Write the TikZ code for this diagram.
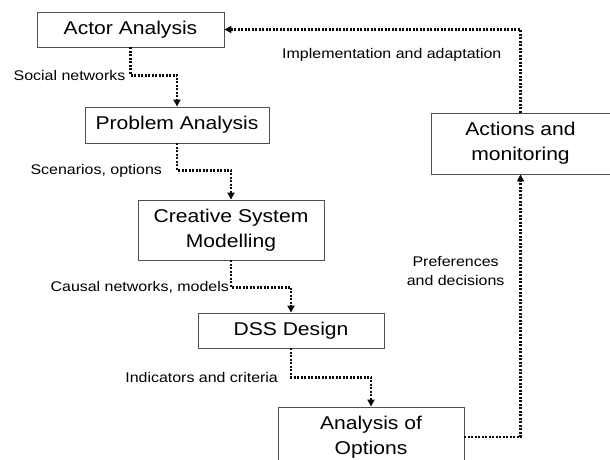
\documentclass[tikz,border=0pt]{standalone}
\usepackage{fontspec}
\setmainfont{Liberation Sans}[FakeStretch=1.14]
\usepackage{xcolor}
\usepackage{tikz}
\usetikzlibrary{arrows.meta,positioning}
\definecolor{BoxGray}{RGB}{80,80,80}
\definecolor{FlowBlack}{RGB}{10,10,10}

\begin{document}
\begin{tikzpicture}[
    x=1pt,y=-1pt,
    stagebox/.style={draw=BoxGray, line width=0.9pt, fill=white, inner sep=2pt, align=center, font=\fontsize{18.5}{25}\selectfont},
    flowlabel/.style={inner sep=1pt, align=center, font=\fontsize{14}{19}\selectfont},
    flow/.style={-{Triangle[length=7pt,width=7pt]}, line width=2.2pt, dash pattern=on 2pt off 1.5pt, draw=FlowBlack}
  ]
    \useasboundingbox[fill=white] (0,0) rectangle (610,459);
    \foreach \x/\y/\w/\h/\name/\lab in {130.5/29.5/187/35/actor/Actor Analysis,177/125/184/36/problem/Problem Analysis,231/230/186/60/model/{Creative System\\Modelling},291/330.5/186/35/dss/DSS Design,371/437/186/60/options/{Analysis of\\Options},520.5/143.5/179/61/actions/{Actions and\\monitoring}} {
      \node[stagebox, minimum width=\w pt, minimum height=\h pt] (\name) at (\x,\y) {\lab};
    }
    \draw[flow] (actor.south) -- ++(0,28) node[flowlabel, anchor=east, xshift=-3pt] {Social networks} -| (problem.north);
    \draw[flow] (problem.south) -- ++(0,27) node[flowlabel, anchor=east, xshift=-13pt] {Scenarios, options} -| (model.north);
    \draw[flow] (model.south) -- ++(0,27) node[flowlabel, anchor=east, xshift=0pt] {Causal networks, models} -| (dss.north);
    \draw[flow] (dss.south) -- ++(0,29) node[flowlabel, anchor=east, xshift=-11pt] {Indicators and criteria} -| (options.north);
    \draw[flow] (options.east) -| node[flowlabel, pos=0.816, anchor=east, xshift=-14pt] {Preferences\\and decisions} (actions.south);
    \draw[flow] (actions.north) |- node[flowlabel, pos=0.5, anchor=east, xshift=-17pt, yshift=-25pt] {Implementation and adaptation} (actor.east);
  \end{tikzpicture}
\end{document}
